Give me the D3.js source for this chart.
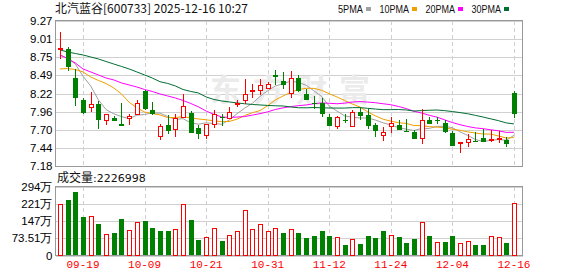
<!DOCTYPE html>
<html>
<head>
<meta charset="utf-8">
<script src="https://cdn.jsdelivr.net/npm/d3@7"></script>
<style>
  body { margin: 0; background: #fff; }
  svg { display: block; }
</style>
</head>
<body>
<svg class="kline-chart"></svg>
<script>
var dates = ["09-16","09-17","09-18","09-19","09-22","09-23","09-24","09-25","09-26","09-29","09-30",
  "10-09","10-10","10-13","10-14","10-15","10-16","10-17","10-20","10-21","10-22","10-23","10-24","10-27","10-28","10-29","10-30","10-31",
  "11-03","11-04","11-05","11-06","11-07","11-10","11-11","11-12","11-13","11-14","11-17","11-18","11-19","11-20","11-21","11-24","11-25","11-26","11-27","11-28",
  "12-01","12-02","12-03","12-04","12-05","12-08","12-09","12-10","12-11","12-12","12-15","12-16"];

var opens = [8.86,8.87,8.46,8.14,8.03,8.09,7.84,7.89,7.80,7.87,7.92,
  8.27,8.00,7.61,7.78,7.71,7.88,7.96,7.74,7.62,7.78,7.90,7.88,8.07,8.12,8.26,8.28,8.30,
  8.50,8.42,8.24,8.46,8.23,8.10,8.10,7.90,7.76,7.85,7.76,7.97,7.93,7.78,7.62,7.76,7.79,7.70,7.68,7.58,
  7.86,7.86,7.81,7.67,7.51,7.52,7.56,7.60,7.55,7.56,7.57,8.24];
var highs = [9.10,8.89,8.57,8.15,8.25,8.11,7.93,7.90,8.09,7.92,8.13,
  8.27,8.10,7.79,7.91,7.93,8.21,7.97,7.77,7.79,7.99,7.93,8.03,8.13,8.43,8.36,8.43,8.39,
  8.56,8.53,8.54,8.48,8.28,8.18,8.16,7.92,7.90,7.92,7.98,8.02,8.00,7.80,7.74,7.88,7.84,7.85,7.69,8.00,
  7.88,7.89,7.84,7.68,7.52,7.64,7.67,7.71,7.70,7.68,7.59,8.26];
var lows = [8.71,8.54,8.04,7.93,7.96,7.71,7.77,7.82,7.77,7.77,7.91,
  7.99,7.91,7.55,7.64,7.60,7.87,7.65,7.57,7.57,7.72,7.76,7.87,8.03,8.07,8.16,8.20,8.28,
  8.34,8.28,8.16,8.24,8.13,8.00,7.88,7.75,7.71,7.80,7.75,7.84,7.71,7.60,7.54,7.66,7.70,7.68,7.57,7.49,
  7.79,7.79,7.66,7.47,7.37,7.46,7.53,7.52,7.52,7.51,7.45,7.87];
var closes = [8.87,8.60,8.17,7.95,8.07,7.85,7.93,7.84,7.77,7.90,8.08,
  8.00,7.94,7.76,7.69,7.87,8.04,7.66,7.64,7.78,7.92,7.88,7.96,8.09,8.21,8.27,8.35,8.36,
  8.46,8.35,8.45,8.27,8.14,8.08,7.94,7.77,7.89,7.84,7.96,7.91,7.77,7.69,7.67,7.80,7.71,7.68,7.57,7.84,
  7.80,7.85,7.67,7.48,7.52,7.57,7.54,7.53,7.57,7.58,7.51,7.93];
var prevClose = 8.76;

var volumes = [2190000,2407000,2748000,1683000,1670000,1385000,916000,1001000,1598000,1074000,1427000,
  1513000,1214000,1087000,1087000,1116000,2194000,1555000,703000,776000,1159000,660000,860000,1044000,1926000,1116000,1330000,1044000,
  1159000,1001000,1116000,1001000,776000,860000,1087000,860000,776000,490000,690000,533000,860000,788000,1087000,860000,831000,575000,746000,1427000,
  874000,575000,631000,874000,533000,618000,490000,490000,818000,788000,575000,2226998];

var ma5 = [8.775,8.724,8.645,8.47,8.33,8.13,7.99,7.93,7.89,7.86,7.91,
  7.92,7.94,7.94,7.89,7.85,7.86,7.80,7.78,7.80,7.79,7.78,7.84,7.93,8.01,8.08,8.18,8.26,
  8.33,8.36,8.40,8.38,8.34,8.26,8.18,8.04,7.97,7.90,7.88,7.87,7.87,7.84,7.80,7.77,7.73,7.71,7.69,7.72,
  7.72,7.75,7.75,7.73,7.67,7.62,7.56,7.53,7.55,7.56,7.55,7.62];
var ma10 = [8.574,8.581,8.566,8.531,8.459,8.409,8.365,8.301,8.215,8.095,8.016,
  7.956,7.933,7.914,7.876,7.877,7.888,7.870,7.856,7.844,7.829,7.817,7.819,7.852,7.904,7.945,7.976,8.046,
  8.129,8.186,8.238,8.278,8.296,8.295,8.268,8.218,8.172,8.120,8.070,8.026,7.958,7.900,7.852,7.824,7.802,7.792,7.761,7.761,
  7.745,7.739,7.729,7.708,7.693,7.670,7.653,7.639,7.638,7.611,7.582,7.589];
var ma20 = [8.775,8.724,8.660,8.574,8.531,8.488,8.444,8.416,8.373,8.344,8.315,
  8.279,8.251,8.215,8.186,8.157,8.121,8.078,8.030,7.970,7.922,7.886,7.876,7.883,7.890,7.911,7.932,7.958,
  7.992,8.015,8.033,8.047,8.057,8.074,8.086,8.081,8.074,8.083,8.099,8.106,8.098,8.089,8.074,8.060,8.035,8.005,7.966,7.941,
  7.908,7.882,7.843,7.804,7.773,7.747,7.727,7.716,7.700,7.686,7.663,7.664];
var ma30 = [8.847,8.818,8.796,8.775,8.746,8.717,8.681,8.645,8.610,8.574,8.531,
  8.488,8.444,8.391,8.366,8.330,8.279,8.251,8.229,8.172,8.136,8.114,8.100,8.086,8.074,8.064,8.057,8.050,
  8.045,8.042,8.028,8.017,8.016,8.020,8.016,8.013,8.012,8.012,8.018,8.019,8.008,7.998,7.989,7.990,7.991,7.985,7.970,7.976,
  7.981,7.984,7.975,7.962,7.947,7.930,7.907,7.883,7.857,7.831,7.799,7.785];

var priceTicks = [7.18, 7.44, 7.70, 7.96, 8.22, 8.49, 8.75, 9.01, 9.27];
var volTicks = [0, 735100, 1470200, 2205300, 2940400];
var dateTicks = ["09-19","10-09","10-21","10-31","11-12","11-24","12-04","12-16"];
var maNames = ["5PMA", "10PMA", "20PMA", "30PMA"];
var maColors = ["#a0a0a0", "#f0a000", "#ff00ff", "#006e32"];

var upColor = "#ff0000";
var downColor = "#008000";

drawKline();

function drawKline() {
  var width = 578, height = 276;
  var left = 55.5, right = 522.5;
  var priceTop = 20.5, priceBottom = 166;
  var volTop = 186.5, volBottom = 255.5;

  var svg = d3.select(".kline-chart")
    .attr("width", width)
    .attr("height", height)
    .style("font-family", "'DejaVu Sans', Verdana, sans-serif");

  var x = d3.scaleBand().domain(dates).range([56.06, 517.8]);
  var cx = function(d) { return x(d) + x.bandwidth() / 2; };
  var y = d3.scaleLinear().domain([7.18, 9.27]).range([priceBottom, priceTop]);
  var yv = d3.scaleLinear().domain([0, 2940400]).range([volBottom, volTop]);
  var bodyW = 5;

  // header
  var head = svg.append("text")
    .attr("x", 55)
    .attr("y", 13)
    .style("font-family", "'Noto Sans CJK SC', sans-serif")
    .style("font-size", "12px")
    .attr("fill", "#111")
    .text("北汽蓝谷[600733] 2025-12-16 10:27");

  var legend = svg.append("g").attr("class", "legend");
  var legendX = [338, 379.5, 425.5, 471.5];
  var legendW = [25, 29.5, 29.5, 29.5];
  maNames.forEach(function(name, i) {
    legend.append("text")
      .attr("x", legendX[i])
      .attr("y", 12.5)
      .attr("textLength", legendW[i])
      .attr("lengthAdjust", "spacingAndGlyphs")
      .style("font-family", "'Liberation Sans', sans-serif")
      .style("font-size", "11px")
      .attr("fill", "#111")
      .text(name);
    legend.append("rect")
      .attr("x", legendX[i] + legendW[i] + 3)
      .attr("y", 7)
      .attr("width", 5)
      .attr("height", 4)
      .attr("fill", maColors[i]);
  });

  // price axis + grid
  var priceAxis = svg.append("g")
    .attr("class", "y axis")
    .attr("transform", "translate(" + left + ",0)")
    .call(d3.axisLeft(y).tickValues(priceTicks).tickFormat(d3.format(".2f"))
      .tickSize(-(right - left)).tickPadding(3));
  priceAxis.select(".domain").remove();
  priceAxis.selectAll("line").attr("stroke", "#d0d0d0").attr("shape-rendering", "crispEdges");
  priceAxis.selectAll("text").style("font-size", "11.5px").attr("fill", "#000");

  // volume axis + grid
  var volAxis = svg.append("g")
    .attr("class", "y axis")
    .attr("transform", "translate(" + left + ",0)")
    .call(d3.axisLeft(yv).tickValues(volTicks)
      .tickFormat(function(d) {
        if (d === 0) return "0";
        var w = d / 10000;
        return (w >= 100 ? Math.round(w) : w.toFixed(2)) + "万";
      })
      .tickSize(-(right - left)).tickPadding(3));
  volAxis.select(".domain").remove();
  volAxis.selectAll("line").attr("stroke", "#d0d0d0").attr("shape-rendering", "crispEdges");
  volAxis.selectAll("text").style("font-size", "11.5px").attr("fill", "#000");

  // dashed date lines
  [[priceTop, priceBottom], [volTop, volBottom]].forEach(function(r) {
    svg.append("g").selectAll("line")
      .data(dateTicks)
      .enter().append("line")
      .attr("x1", function(d) { return Math.round(cx(d)) + 0.5; })
      .attr("x2", function(d) { return Math.round(cx(d)) + 0.5; })
      .attr("y1", r[0])
      .attr("y2", r[1])
      .attr("stroke", "#cfcfcf")
      .attr("stroke-dasharray", "4,3")
      .attr("shape-rendering", "crispEdges");
  });

  // watermark
  svg.append("text")
    .attr("x", 210)
    .attr("y", 101)
    .style("font-family", "'Noto Sans CJK SC', sans-serif")
    .style("font-size", "31px")
    .style("font-weight", "bold")
    .attr("letter-spacing", "12")
    .attr("fill", "#ebebeb")
    .text("东方财富");

  // frames
  svg.append("rect")
    .attr("x", left).attr("y", priceTop)
    .attr("width", right - left).attr("height", priceBottom - priceTop)
    .attr("fill", "none").attr("stroke", "#999").attr("shape-rendering", "crispEdges");
  svg.append("rect")
    .attr("x", left).attr("y", volTop)
    .attr("width", right - left).attr("height", volBottom - volTop)
    .attr("fill", "none").attr("stroke", "#999").attr("shape-rendering", "crispEdges");

  // x labels
  var xAxis = svg.append("g")
    .attr("class", "x axis")
    .attr("transform", "translate(0," + volBottom + ")")
    .call(d3.axisBottom(x).tickValues(dateTicks).tickSize(0).tickPadding(5));
  xAxis.select(".domain").remove();
  xAxis.selectAll("text")
    .style("font-family", "'Liberation Mono', monospace")
    .style("font-size", "11px")
    .attr("fill", "#ff0000");

  // moving averages
  var mas = [ma5, ma10, ma20, ma30];
  var line = d3.line()
    .x(function(d, i) { return cx(dates[i]); })
    .y(function(d) { return y(d); });
  mas.forEach(function(m, i) {
    svg.append("path")
      .datum(m)
      .attr("fill", "none")
      .attr("stroke", maColors[i])
      .attr("stroke-width", 1)
      .attr("d", line);
  });

  // candles
  var candles = svg.append("g").attr("class", "candles")
    .selectAll("g")
    .data(dates)
    .enter().append("g");

  candles.append("line")
    .attr("x1", function(d) { return Math.round(cx(d)) + 0.5; })
    .attr("x2", function(d) { return Math.round(cx(d)) + 0.5; })
    .attr("y1", function(d, i) { return y(highs[i]); })
    .attr("y2", function(d, i) { return y(lows[i]); })
    .attr("stroke", function(d, i) { return closes[i] >= opens[i] ? upColor : downColor; })
    .attr("shape-rendering", "crispEdges");

  candles.append("rect")
    .attr("x", function(d, i) {
      var c = Math.round(cx(d)) + 0.5;
      return closes[i] >= opens[i] ? c - 2 : c - 2.5;
    })
    .attr("width", function(d, i) { return closes[i] >= opens[i] ? 4 : 5; })
    .attr("y", function(d, i) { return Math.round(y(Math.max(opens[i], closes[i]))) + 0.5; })
    .attr("height", function(d, i) {
      return Math.max(1, Math.abs(y(opens[i]) - y(closes[i])));
    })
    .attr("fill", function(d, i) { return closes[i] >= opens[i] ? "#fff" : downColor; })
    .attr("stroke", function(d, i) { return closes[i] >= opens[i] ? upColor : "none"; })
    .attr("shape-rendering", "crispEdges");

  // volume bars, coloured against previous close
  var isUp = function(i) { return closes[i] >= (i === 0 ? prevClose : closes[i - 1]); };
  svg.append("g").attr("class", "volume")
    .selectAll("rect")
    .data(volumes)
    .enter().append("rect")
    .attr("x", function(d, i) {
      var c = Math.round(cx(dates[i])) + 0.5;
      return isUp(i) ? c - 2 : c - 2.5;
    })
    .attr("width", function(d, i) { return isUp(i) ? 4 : 5; })
    .attr("y", function(d) { return Math.round(yv(d)) + 0.5; })
    .attr("height", function(d) { return volBottom - 0.5 - Math.round(yv(d)) - 0.5; })
    .attr("fill", function(d, i) { return isUp(i) ? "#fff" : downColor; })
    .attr("stroke", function(d, i) { return isUp(i) ? upColor : "none"; })
    .attr("shape-rendering", "crispEdges");

  // volume title
  var vt = svg.append("text")
    .attr("x", 57)
    .attr("y", 182)
    .attr("fill", "#111");
  vt.append("tspan")
    .style("font-family", "'Noto Sans CJK SC', sans-serif")
    .style("font-size", "12px")
    .text("成交量");
  vt.append("tspan")
    .style("font-size", "11px")
    .text(":" + volumes[volumes.length - 1]);
}
</script>
</body>
</html>
